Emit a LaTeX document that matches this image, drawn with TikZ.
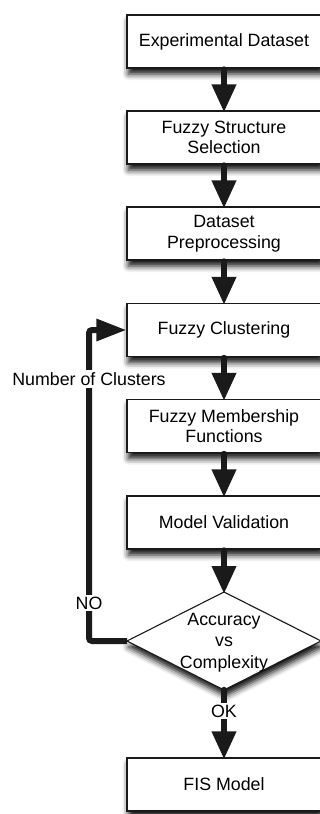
\documentclass[tikz,border=0pt]{standalone}
\usepackage{fontspec}
\setmainfont{Liberation Sans}
\usetikzlibrary{arrows.meta,shadows.blur}

\definecolor{ink}{HTML}{1A1A1A}

\tikzset{
  softshadow/.style={blur shadow={shadow xshift=1.5pt, shadow yshift=-6pt,
      shadow blur radius=6pt, shadow opacity=95}},
  stepbox/.style={draw=ink, line width=1.1pt, fill=white,
    minimum width=194pt, minimum height=53pt, inner sep=0pt,
    align=center, font=\fontsize{17.8}{20.5}\selectfont, softshadow},
  decision/.style={draw=ink, line width=1.1pt, fill=white, softshadow},
  caption/.style={align=center, font=\fontsize{17.8}{21.5}\selectfont},
  flow/.style={draw=ink, line width=6.5pt, line cap=round,
    -{Triangle[length=28pt,width=23pt]}},
  feedback/.style={draw=ink, line width=6pt, rounded corners=3pt,
    -{Triangle[length=30pt,width=21pt]}},
  tag/.style={fill=white, inner sep=2pt, font=\fontsize{17.8}{20.5}\selectfont}
}

\begin{document}
\begin{tikzpicture}[x=1pt, y=-1pt]
  \useasboundingbox (0,0) rectangle (320,814);
  \clip (0,0) rectangle (320,814);

  % process steps
  \node[stepbox] (data)  at (224,41.5)  {Experimental Dataset};
  \node[stepbox] (struct) at (224,137.5) {Fuzzy Structure\\Selection};
  \node[stepbox] (prep)  at (224,233.5) {Dataset\\Preprocessing};
  \node[stepbox] (clust) at (224,330)   {Fuzzy Clustering};
  \node[stepbox] (mf)    at (224,426)   {Fuzzy Membership\\Functions};
  \node[stepbox] (valid) at (224,522.5) {Model Validation};

  % decision diamond
  \path[decision] (127,641) -- (224,592) -- (321,641) -- (224,690) -- cycle;
  \coordinate (dtop) at (224,592);
  \coordinate (dbot) at (224,690);
  \coordinate (dleft) at (127,641);
  \node[caption] (dec) at (224,642.5) {Accuracy\\vs\\Complexity};

  \node[stepbox] (fis)   at (224,784.5) {FIS Model};

  % main flow
  \draw[flow] ([yshift=-1pt]data.south)   -- ([yshift=-2pt]struct.north);
  \draw[flow] ([yshift=-1pt]struct.south) -- ([yshift=-2pt]prep.north);
  \draw[flow] ([yshift=-1pt]prep.south)   -- ([yshift=-2pt]clust.north);
  \draw[flow] ([yshift=-1pt]clust.south)  -- ([yshift=-2pt]mf.north);
  \draw[flow] ([yshift=-1pt]mf.south)     -- ([yshift=-2pt]valid.north);
  \draw[flow] ([yshift=-1pt]valid.south)  -- ([yshift=-2pt]dtop);
  \draw[flow] (dbot) -- ([yshift=-2pt]fis.north);

  % feedback loop
  \coordinate (corner) at (89,641);
  \draw[feedback] (dleft) -- (corner) |- (clust.west);

  % labels
  \node[tag] (ncl) at (89,379) {Number of Clusters};
  \node[tag] (no)  at (89,603) {NO};
  \node[tag] (ok)  at (224,711) {OK};
\end{tikzpicture}
\end{document}
